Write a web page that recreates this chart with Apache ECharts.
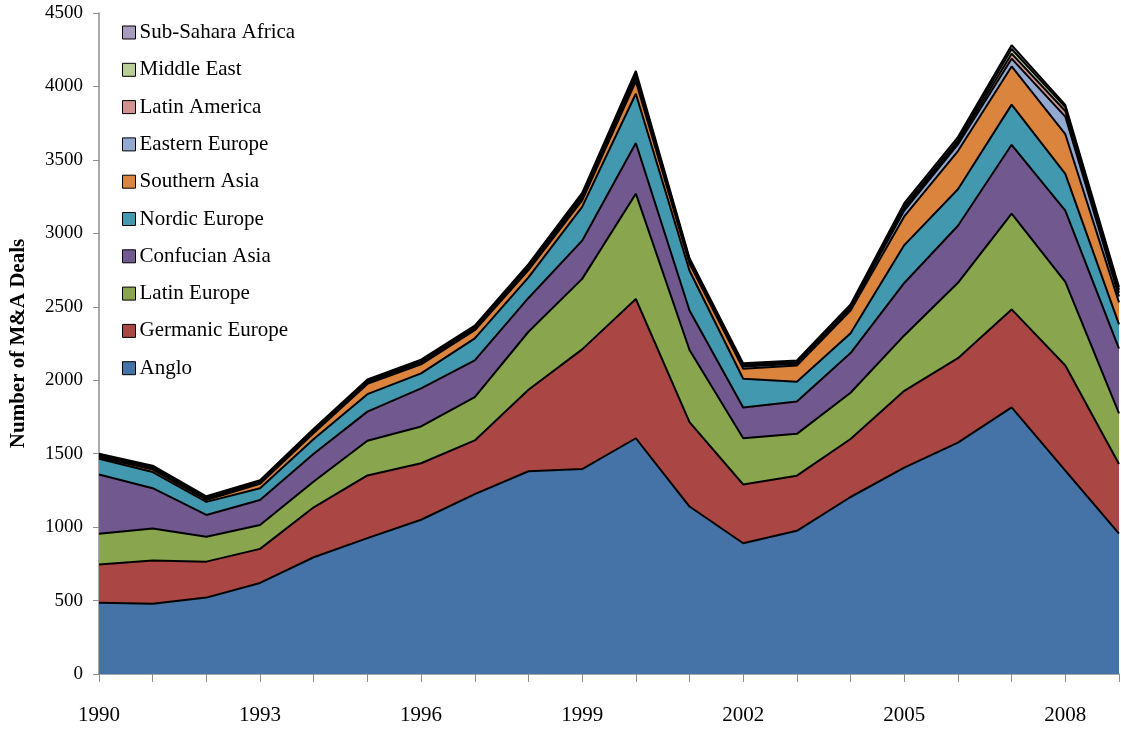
<!DOCTYPE html>
<html>
<head>
<meta charset="utf-8">
<script src="https://cdn.jsdelivr.net/npm/echarts@6/dist/echarts.min.js"></script>
<style>
  html, body { margin: 0; padding: 0; background: #fff; }
  #chart { width: 1121px; height: 731px; }
</style>
</head>
<body>
<div id="chart"></div>
<script>
const years = ['1990', '1991', '1992', '1993', '1994', '1995', '1996', '1997', '1998', '1999',
  '2000', '2001', '2002', '2003', '2004', '2005', '2006', '2007', '2008', '2009']

const anglo = [485, 478, 520, 620, 795, 925, 1050, 1225, 1380, 1395, 1605, 1140, 890, 975, 1205, 1405, 1575, 1815, 1385, 955]
const germanicEurope = [260, 294, 245, 232, 340, 427, 385, 365, 555, 815, 948, 575, 400, 375, 395, 523, 575, 667, 715, 475]
const latinEurope = [210, 218, 170, 163, 175, 236, 250, 295, 395, 480, 717, 491, 315, 285, 315, 377, 513, 652, 570, 345]
const confucianAsia = [403, 275, 148, 170, 190, 198, 260, 250, 230, 260, 345, 269, 210, 220, 270, 357, 389, 469, 485, 440]
const nordicEurope = [107, 110, 89, 80, 100, 119, 102, 150, 140, 230, 335, 270, 195, 135, 135, 258, 248, 273, 250, 165]
const southernAsia = [10, 17, 13, 30, 40, 70, 61, 55, 50, 45, 85, 50, 68, 110, 155, 195, 260, 260, 270, 150]
const easternEurope = [8, 8, 8, 8, 10, 10, 10, 10, 12, 15, 20, 10, 15, 12, 15, 40, 45, 53, 120, 40]
const latinAmerica = [5, 5, 5, 5, 6, 6, 6, 6, 8, 10, 15, 8, 6, 6, 8, 15, 15, 34, 38, 25]
const middleEast = [5, 5, 5, 5, 6, 6, 6, 6, 8, 10, 15, 8, 6, 6, 8, 15, 15, 32, 26, 20]
const subSaharaAfrica = [7, 8, 7, 7, 8, 8, 10, 10, 12, 15, 20, 10, 10, 10, 10, 20, 20, 26, 15, 20]

const seriesNames = ['Anglo', 'Germanic Europe', 'Latin Europe', 'Confucian Asia', 'Nordic Europe',
  'Southern Asia', 'Eastern Europe', 'Latin America', 'Middle East', 'Sub-Sahara Africa']
const seriesData = [anglo, germanicEurope, latinEurope, confucianAsia, nordicEurope,
  southernAsia, easternEurope, latinAmerica, middleEast, subSaharaAfrica]
const colors = ['#4572A7', '#AA4643', '#89A54E', '#71588F', '#4198AF',
  '#DB843D', '#93A9CF', '#D19392', '#B9CD96', '#A99BBD']

const font = 'Liberation Serif'
const chart = echarts.init(document.getElementById('chart'))

chart.setOption({
  animation: false,
  color: colors,
  textStyle: { fontFamily: font, color: '#000' },
  grid: { left: 96, right: 2, top: 13, bottom: 57 },
  legend: {
    orient: 'vertical',
    left: 117,
    top: 17,
    itemWidth: 13,
    itemHeight: 13,
    itemGap: 16.3,
    icon: 'rect',
    data: seriesNames.slice().reverse(),
    itemStyle: { borderColor: '#000', borderWidth: 1 },
    textStyle: { fontFamily: font, fontSize: 21, color: '#000', lineHeight: 20, padding: [0, 0, 0, -1] },
  },
  xAxis: {
    type: 'category',
    boundaryGap: false,
    data: years,
    axisLine: { lineStyle: { color: '#8c8c8c', width: 1.5 } },
    axisTick: { show: true, interval: 0, length: 8, lineStyle: { color: '#8c8c8c' } },
    axisLabel: {
      interval: 2, // every 3rd year
      margin: 31,
      fontFamily: font,
      fontSize: 21,
      color: '#000',
    },
  },
  yAxis: {
    type: 'value',
    min: 0,
    max: 4500,
    interval: 500,
    name: 'Number of M&A Deals',
    nameLocation: 'middle',
    nameGap: 70,
    nameTextStyle: { fontFamily: font, fontSize: 21, fontWeight: 'bold', color: '#000' },
    splitLine: { show: false },
    axisLine: { show: true, lineStyle: { color: '#8c8c8c', width: 1.5 } },
    axisTick: { show: true, length: 6, lineStyle: { color: '#8c8c8c' } },
    axisLabel: { fontFamily: font, fontSize: 19, color: '#000', margin: 16, formatter: (v) => String(v) },
  },
  series: seriesNames.map((name, i) => ({
    name,
    type: 'line',
    stack: 'total',
    data: seriesData[i],
    symbol: 'none',
    lineStyle: { color: '#000', width: 2 },
    areaStyle: { color: colors[i], opacity: 1 },
    itemStyle: { color: colors[i] },
  })),
})
</script>
</body>
</html>
